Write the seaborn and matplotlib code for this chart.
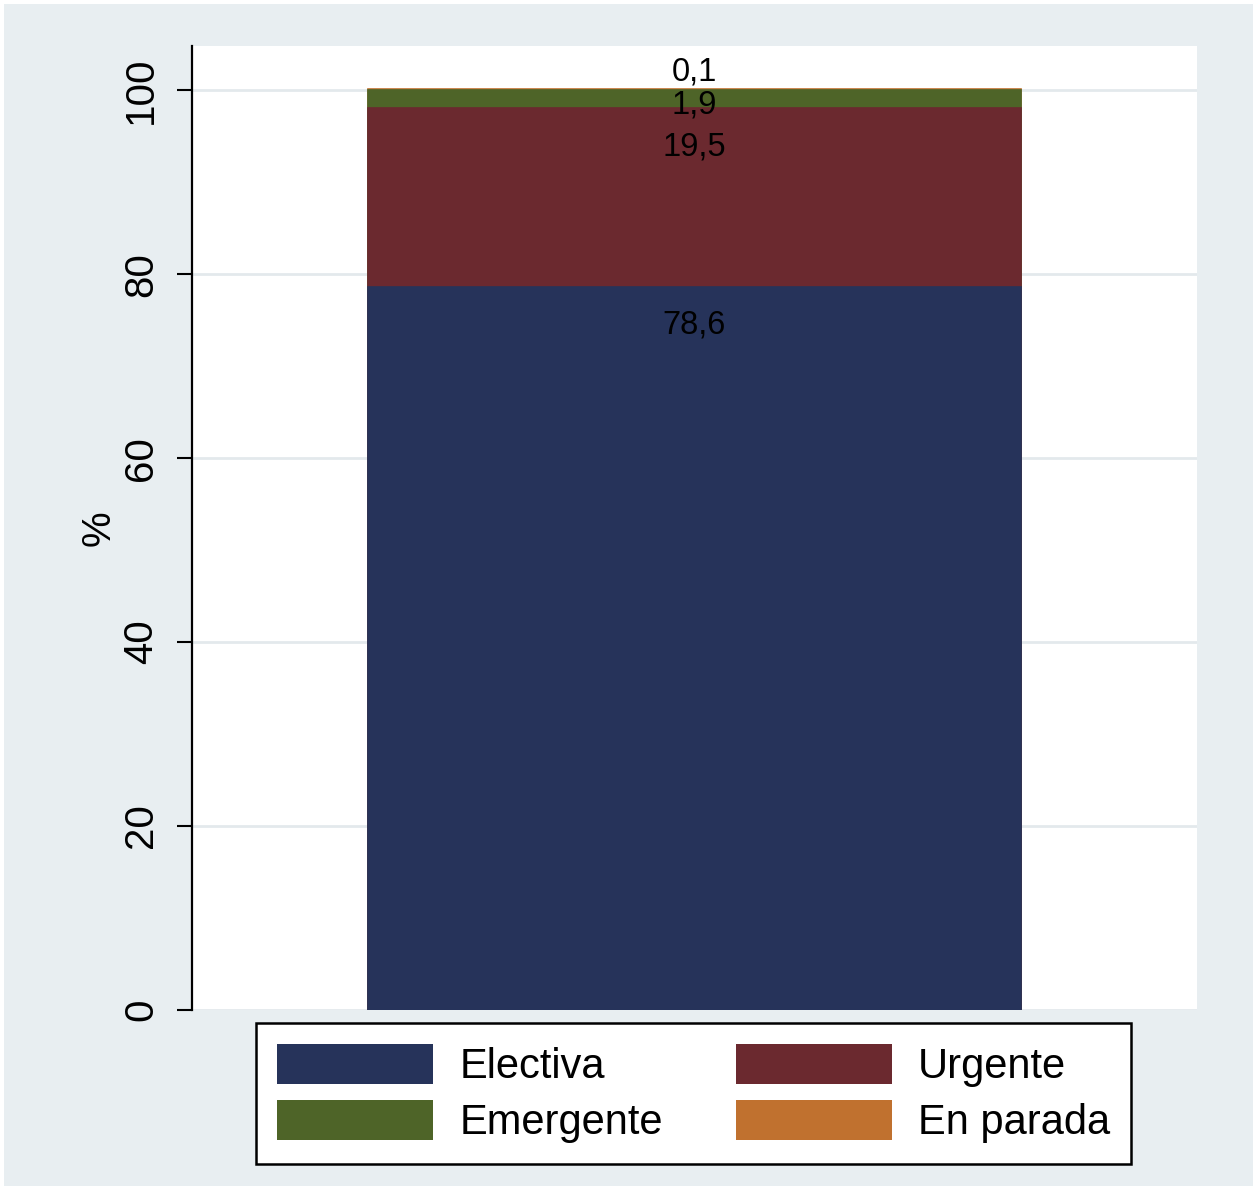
import matplotlib
matplotlib.use("Agg")
import matplotlib.pyplot as plt
from matplotlib.patches import Patch, Rectangle
import numpy as np
import pandas as pd
import seaborn as sns

# data
categories = ["Electiva", "Urgente", "Emergente", "En parada"]
values = [78.6, 19.5, 1.9, 0.1]
value_labels = ["78,6", "19,5", "1,9", "0,1"]
colors = ["#26335A", "#6B292F", "#4E6428", "#C0712F"]
label_offsets = [-4.1, -4.3, -1.6, 1.9]  # Stata-like label placement near segment top
yticks = [0, 20, 40, 60, 80, 100]

sns.set_style("white")
plt.rcParams["font.family"] = ["Liberation Sans", "DejaVu Sans"]
plt.rcParams["text.color"] = "black"
plt.rcParams["ytick.color"] = "black"
plt.rcParams["axes.labelcolor"] = "black"

bg = "#E8EEF1"
fig = plt.figure(figsize=(12.58, 11.92), dpi=100, facecolor="white")
fig.patches.append(Rectangle((4 / 1258, 6 / 1192), 1249 / 1258, 1182 / 1192,
                             transform=fig.transFigure, facecolor=bg,
                             edgecolor="none", zorder=-10))

ax = fig.add_axes([192 / 1258, 1 - 1010 / 1192, 1005 / 1258, 964 / 1192])
ax.set_facecolor("white")

cum = np.cumsum(values)
df = pd.DataFrame({"grp": [""] * len(values), "cum": cum, "cat": categories})

# draw cumulative totals from top to bottom so each segment shows as stacked
for i in reversed(range(len(values))):
    sns.barplot(data=df.iloc[[i]], x="grp", y="cum", color=colors[i],
                width=0.65, ax=ax, zorder=3, saturation=1,
                edgecolor=colors[i], linewidth=1.2)

for i, lab in enumerate(value_labels):
    ax.text(0, cum[i] + label_offsets[i], lab, ha="center", va="center",
            fontsize=23.5, color="black", zorder=5)

ax.set_xlim(-0.5, 0.5)
ax.set_ylim(0, 104.8)
ax.set_yticks(yticks)
ax.set_yticklabels([str(t) for t in yticks], rotation=90, va="center",
                   fontsize=29)
ax.yaxis.grid(True, color="#E3E9EC", linewidth=2, zorder=0)
ax.set_axisbelow(True)
ax.set_xticks([])
ax.set_xlabel("")
ax.set_ylabel("%", fontsize=29, labelpad=3)
ax.tick_params(axis="y", length=11, width=1.5, color="black", pad=12,
               left=True)
for s in ["top", "right", "bottom"]:
    ax.spines[s].set_visible(False)
ax.spines["left"].set_color("black")
ax.spines["left"].set_linewidth(1.6)

# legend filled row by row: Electiva, Urgente / Emergente, En parada
order = [0, 2, 1, 3]
handles = [Patch(facecolor=colors[i], edgecolor="none") for i in order]
labels = [categories[i] for i in order]
leg = fig.legend(handles, labels, ncol=2, loc="center",
                 bbox_to_anchor=(693.5 / 1258, 1 - 1093.5 / 1192),
                 fontsize=30, frameon=True, fancybox=False, framealpha=1,
                 handlelength=3.75, handleheight=1.1, handletextpad=0.62,
                 columnspacing=1.75, labelspacing=0.3, borderpad=0.5)
leg.get_frame().set_edgecolor("black")
leg.get_frame().set_linewidth(1.8)
leg.get_frame().set_facecolor("white")

fig.savefig("out.png", dpi=100, facecolor=fig.get_facecolor())
